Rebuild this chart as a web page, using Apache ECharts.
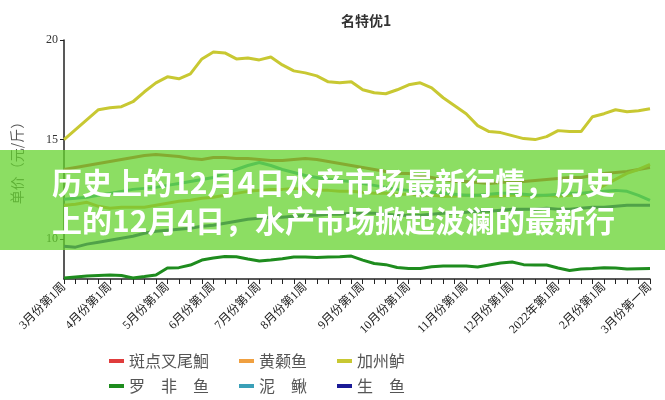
<!DOCTYPE html>
<html><head><meta charset="utf-8">
<script src="https://cdn.jsdelivr.net/npm/echarts@6/dist/echarts.min.js"></script>
<style>html,body{margin:0;padding:0;background:#fff}#c{width:665px;height:400px}</style>
</head><body><div id="c"></div>
<script>
const categories = [
 '3月份第1周','3月份第2周','3月份第3周','3月份第4周',
 '4月份第1周','4月份第2周','4月份第3周','4月份第4周','4月份第5周',
 '5月份第1周','5月份第2周','5月份第3周','5月份第4周',
 '6月份第1周','6月份第2周','6月份第3周','6月份第4周',
 '7月份第1周','7月份第2周','7月份第3周','7月份第4周',
 '8月份第1周','8月份第2周','8月份第3周','8月份第4周','8月份第5周',
 '9月份第1周','9月份第2周','9月份第3周','9月份第4周',
 '10月份第1周','10月份第2周','10月份第3周','10月份第4周','10月份第5周',
 '11月份第1周','11月份第2周','11月份第3周','11月份第4周',
 '12月份第1周','12月份第2周','12月份第3周','12月份第4周',
 '2022年第1周','1月份第2周','1月份第3周','1月份第4周',
 '2月份第1周','2月份第2周','2月份第3周','2月份第4周',
 '3月份第一周'
];
const labelIdx = [0,4,9,13,17,21,26,30,35,39,43,47,51];
const seriesNames = ['斑点叉尾鮰','黄颡鱼','加州鲈','罗　非　鱼','泥　鳅','生　鱼'];
const banDian = [13.5,13.6,13.7,13.8,13.9,14.0,14.1,14.2,14.25,14.2,14.15,14.05,14.0,14.1,14.1,14.05,14.05,14.0,13.95,13.95,14.0,14.05,14.0,13.9,13.8,13.7,13.6,13.5,13.4,13.3,13.3,13.2,13.1,13.0,12.9,12.9,12.85,12.8,12.85,12.9,12.9,12.95,13.0,13.05,13.1,13.1,13.2,13.3,13.35,13.4,13.5,13.6];
const huangSang = [11.7,11.75,11.85,11.65,11.55,11.6,11.6,11.6,11.7,11.8,11.9,11.95,12.05,12.1,12.2,12.3,12.4,12.45,12.5,12.5,12.55,12.5,12.45,12.45,12.4,12.4,12.35,12.3,12.3,12.25,12.25,12.2,12.2,12.15,12.15,12.2,12.2,12.15,12.15,12.2,12.2,12.15,12.2,12.15,12.2,12.25,12.4,12.7,13.0,13.3,13.5,13.75];
const jiaZhouLu = [15.0,15.5,16.0,16.5,16.6,16.65,16.9,17.4,17.85,18.15,18.05,18.3,19.05,19.4,19.35,19.05,19.1,19.0,19.15,18.75,18.45,18.35,18.2,17.9,17.85,17.9,17.5,17.35,17.3,17.5,17.75,17.85,17.6,17.1,16.7,16.3,15.7,15.4,15.35,15.2,15.05,15.0,15.15,15.45,15.4,15.4,16.15,16.3,16.5,16.4,16.45,16.55];
const luoFei = [8.05,8.1,8.15,8.18,8.2,8.18,8.05,8.12,8.2,8.55,8.57,8.7,8.95,9.05,9.13,9.12,9.0,8.9,8.95,9.02,9.1,9.1,9.08,9.1,9.12,9.15,8.95,8.78,8.72,8.58,8.53,8.53,8.62,8.65,8.65,8.65,8.6,8.7,8.8,8.85,8.72,8.7,8.7,8.55,8.43,8.5,8.53,8.57,8.55,8.5,8.52,8.53];
const niQiu = [12.0,12.05,12.1,12.2,12.3,12.4,12.5,12.55,12.6,12.7,12.8,12.9,13.0,13.1,13.3,13.5,13.7,13.85,13.7,13.5,13.35,13.2,13.1,13.0,12.95,12.9,12.8,12.7,12.6,12.5,12.45,12.4,12.35,12.3,12.25,12.2,12.2,12.25,12.3,12.3,12.25,12.2,12.2,12.25,12.3,12.3,12.35,12.4,12.45,12.4,12.2,11.95];
const shengYu = [9.65,9.6,9.75,9.85,9.95,10.05,10.15,10.3,10.4,10.45,10.5,10.55,10.65,10.7,10.8,10.9,11.0,11.05,11.1,11.1,11.15,11.2,11.2,11.25,11.25,11.3,11.3,11.3,11.25,11.2,11.2,11.2,11.25,11.3,11.3,11.35,11.4,11.4,11.45,11.5,11.5,11.5,11.55,11.5,11.5,11.55,11.6,11.6,11.65,11.7,11.7,11.7];
const yTicks = [10,15,20];
const titleText = '名特优1';
const yName = '单价（元/斤）';
const bannerLines = ['历史上的12月4日水产市场最新行情，历史','上的12月4日，水产市场掀起波澜的最新行'];

const colors = ['#e03c3c','#f0a040','#c8c832','#1e8c1e','#3aa0b8','#1a1a96'];
const dataList = [banDian,huangSang,jiaZhouLu,luoFei,niQiu,shengYu];
const cjk = '"Noto Sans CJK SC", sans-serif';
const serif = '"Liberation Serif", "Noto Sans CJK SC", serif';

const chart = echarts.init(document.getElementById('c'));
const legendBase = {
  orient:'horizontal', icon:'rect', itemWidth:15, itemHeight:4, itemGap:30,
  textStyle:{fontSize:16, color:'#555', fontFamily:cjk}, selectedMode:false
};
chart.setOption({
  animation:false,
  backgroundColor:'#fff',
  color: colors,
  title:{text:titleText, left:336, top:9, textStyle:{fontSize:14, fontWeight:'bold', color:'#333', fontFamily:cjk}},
  grid:{left:64, right:15, top:40, bottom:121, containLabel:false, outerBoundsMode:'none'},
  legend:[
    Object.assign({}, legendBase, {data:seriesNames.slice(0,3), left:104, top:348}),
    Object.assign({}, legendBase, {data:seriesNames.slice(3,6), left:104, top:373})
  ],
  xAxis:{type:'category', data:categories, boundaryGap:false,
    axisLine:{lineStyle:{color:'#222', width:1.5}},
    axisTick:{interval:0, length:5, lineStyle:{color:'#222'}},
    axisLabel:{interval:(i)=>labelIdx.includes(i), rotate:45, fontSize:12, color:'#222', margin:6, fontFamily:serif}},
  yAxis:{type:'value', min:8, max:20,
    name:yName, nameLocation:'middle', nameGap:40, nameRotate:90,
    nameTextStyle:{color:'#555', fontSize:14, fontFamily:cjk},
    axisLine:{show:true, lineStyle:{color:'#222', width:1.5}},
    axisTick:{show:true, customValues:yTicks, length:4, lineStyle:{color:'#222'}},
    axisLabel:{customValues:yTicks, color:'#333', fontSize:12, fontFamily:serif, margin:6},
    splitLine:{show:false}},
  series: seriesNames.map((n,i)=>({name:n, type:'line', data:dataList[i], showSymbol:false, symbol:'none',
    lineStyle:{width:3, color:colors[i]}, itemStyle:{color:colors[i]}})),
  graphic:[
    {type:'rect', left:0, top:150, z:100, shape:{width:665, height:100}, style:{fill:'rgba(100,210,45,0.74)'}},
    {type:'text', left:52, top:168, z:101, style:{text:bannerLines[0], fill:'#fff', font:'bold 30px "Noto Sans CJK SC"', shadowColor:'rgba(30,70,10,0.6)', shadowBlur:3, shadowOffsetX:1, shadowOffsetY:1}},
    {type:'text', left:52, top:206, z:101, style:{text:bannerLines[1], fill:'#fff', font:'bold 30px "Noto Sans CJK SC"', shadowColor:'rgba(30,70,10,0.6)', shadowBlur:3, shadowOffsetX:1, shadowOffsetY:1}}
  ]
});
</script></body></html>
